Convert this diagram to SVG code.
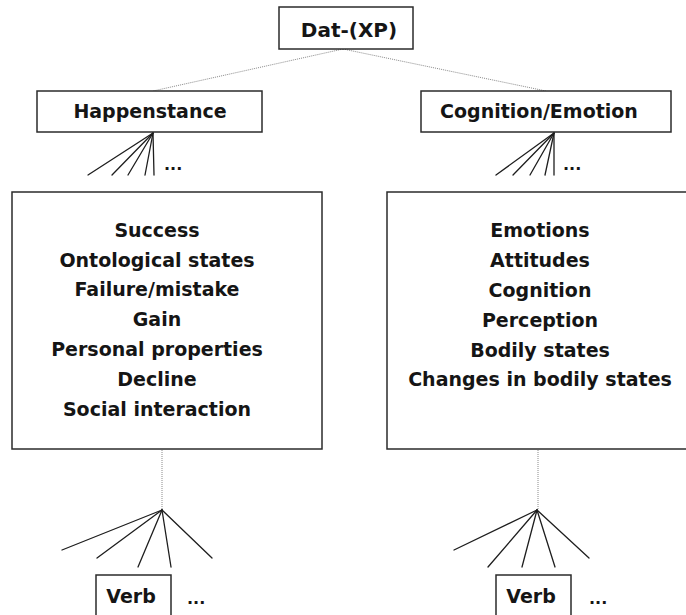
<svg xmlns="http://www.w3.org/2000/svg" width="686" height="615" viewBox="0 0 686 615">
<style>
  .box { fill: #ffffff; stroke: #2b2b2b; stroke-width: 1.5; }
  .t { font-family: "DejaVu Sans", "Liberation Sans", sans-serif; font-weight: bold; font-size: 19px; fill: #151515; text-anchor: middle; }
  .dots { font-family: "DejaVu Sans", "Liberation Sans", sans-serif; font-weight: bold; font-size: 16px; fill: #151515; }
  .dotted { stroke: #8a8a8a; stroke-width: 1; stroke-dasharray: 1 1; fill: none; }
  .fan { stroke: #1e1e1e; stroke-width: 1.3; fill: none; stroke-linecap: round; }
</style>
<rect width="686" height="615" fill="#ffffff"/>
<g id="connectors">
  <line class="dotted" x1="343" y1="49" x2="153" y2="91"/>
  <line class="dotted" x1="343" y1="49" x2="546" y2="91"/>
  <g id="fan-happenstance">
    <line class="fan" x1="153" y1="133" x2="88" y2="175"/>
    <line class="fan" x1="153" y1="133" x2="112" y2="175"/>
    <line class="fan" x1="153" y1="133" x2="128" y2="175"/>
    <line class="fan" x1="153" y1="133" x2="145" y2="175"/>
    <line class="fan" x1="153" y1="133" x2="154" y2="175"/>
  </g>
  <g id="fan-cognition">
    <line class="fan" x1="554" y1="133" x2="496" y2="175"/>
    <line class="fan" x1="554" y1="133" x2="513" y2="175"/>
    <line class="fan" x1="554" y1="133" x2="530" y2="175"/>
    <line class="fan" x1="554" y1="133" x2="545" y2="175"/>
    <line class="fan" x1="554" y1="133" x2="554" y2="175"/>
  </g>
  <line class="dotted" x1="162" y1="450" x2="162" y2="510"/>
  <line class="dotted" x1="538" y1="450" x2="538" y2="510"/>
  <g id="fan-left-verbs">
    <line class="fan" x1="162" y1="510" x2="62" y2="550"/>
    <line class="fan" x1="162" y1="510" x2="97" y2="558"/>
    <line class="fan" x1="162" y1="510" x2="138" y2="567"/>
    <line class="fan" x1="162" y1="510" x2="171" y2="567"/>
    <line class="fan" x1="162" y1="510" x2="212" y2="558"/>
  </g>
  <g id="fan-right-verbs">
    <line class="fan" x1="537" y1="510" x2="454" y2="550"/>
    <line class="fan" x1="537" y1="510" x2="488" y2="567"/>
    <line class="fan" x1="537" y1="510" x2="522" y2="567"/>
    <line class="fan" x1="537" y1="510" x2="555" y2="567"/>
    <line class="fan" x1="537" y1="510" x2="589" y2="558"/>
  </g>
  <text class="dots" x="164" y="170">...</text>
  <text class="dots" x="563" y="170">...</text>
  <text class="dots" x="187" y="604">...</text>
  <text class="dots" x="589" y="604">...</text>
</g>
<g id="dat-xp">
  <rect class="box" x="279" y="7" width="134" height="42"/>
  <text class="t" x="349" y="37" style="font-size:20px">Dat-(XP)</text>
</g>
<g id="happenstance">
  <rect class="box" x="37" y="91" width="225" height="41"/>
  <text class="t" x="150" y="118">Happenstance</text>
</g>
<g id="cognition-emotion">
  <rect class="box" x="421" y="91" width="250" height="41"/>
  <text class="t" x="539" y="118">Cognition/Emotion</text>
</g>
<g id="happenstance-list">
  <rect class="box" x="12" y="192" width="310" height="257"/>
  <text class="t" x="157" y="237">Success</text>
  <text class="t" x="157" y="267">Ontological states</text>
  <text class="t" x="157" y="296">Failure/mistake</text>
  <text class="t" x="157" y="326">Gain</text>
  <text class="t" x="157" y="356">Personal properties</text>
  <text class="t" x="157" y="386">Decline</text>
  <text class="t" x="157" y="416">Social interaction</text>
</g>
<g id="cognition-list">
  <path class="box" d="M690 192 H387 V449 H690"/>
  <text class="t" x="540" y="237">Emotions</text>
  <text class="t" x="540" y="267">Attitudes</text>
  <text class="t" x="540" y="297">Cognition</text>
  <text class="t" x="540" y="327">Perception</text>
  <text class="t" x="540" y="357">Bodily states</text>
  <text class="t" x="540" y="386">Changes in bodily states</text>
</g>
<g id="verb-left">
  <path class="box" d="M96 618 V575 H171 V618"/>
  <text class="t" x="131" y="603">Verb</text>
</g>
<g id="verb-right">
  <path class="box" d="M496 618 V575 H571 V618"/>
  <text class="t" x="531" y="603">Verb</text>
</g>
</svg>
